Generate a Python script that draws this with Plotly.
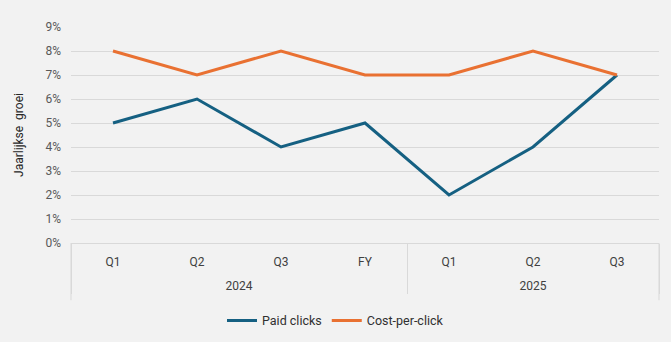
import plotly.graph_objects as go

years = ["2024", "2024", "2024", "2024", "2025", "2025", "2025"]
periods = ["Q1", "Q2", "Q3", "FY", "Q1", "Q2", "Q3"]
paid_clicks = [0.05, 0.06, 0.04, 0.05, 0.02, 0.04, 0.07]
cost_per_click = [0.08, 0.07, 0.08, 0.07, 0.07, 0.08, 0.07]

year_rows = ["<br>" + y for y in years]
xcats = [year_rows, periods]

fig = go.Figure()
fig.add_trace(go.Scatter(x=xcats, y=paid_clicks, mode="lines",
                         name="Paid clicks", line=dict(color="#156082", width=3)))
fig.add_trace(go.Scatter(x=xcats, y=cost_per_click, mode="lines",
                         name="Cost-per-click", line=dict(color="#E97132", width=3)))

fig.update_layout(
    width=671, height=342,
    margin=dict(l=71, r=12, t=27, b=99, autoexpand=False),
    paper_bgcolor="#f2f2f2", plot_bgcolor="#f2f2f2",
    font=dict(family="Roboto, Arial, sans-serif", size=12, color="#404040"),
    showlegend=True,
    legend=dict(orientation="h", xref="container", x=0.5, xanchor="center",
                y=-0.36, yanchor="middle", itemwidth=30, tracegroupgap=0,
                font=dict(size=12.5, color="#303030"), bgcolor="rgba(0,0,0,0)"),
)
fig.update_yaxes(range=[0, 0.09], dtick=0.01, tickformat=".0%", automargin=False,
                 gridcolor="#d9d9d9", gridwidth=1, zeroline=False, showline=False,
                 ticks="", ticklabelstandoff=9, tickfont=dict(color="#595959", size=12),
                 title=dict(text="Jaarlijkse  groei", font=dict(size=12, color="#262626"), standoff=19))
fig.update_xaxes(range=[-0.5, 6.5], showgrid=False, showline=True, linecolor="#d9d9d9", linewidth=1,
                 automargin=False, ticks="", ticklabelstandoff=8,
                 showdividers=True, dividercolor="#d9d9d9", dividerwidth=1,
                 tickfont=dict(color="#404040", size=12))
for xe in (0, 1):
    fig.add_shape(type="line", xref="paper", yref="paper", x0=xe, x1=xe, y0=0, y1=-0.265,
                  line=dict(color="#d9d9d9", width=1))

fig.write_html("out.html")
